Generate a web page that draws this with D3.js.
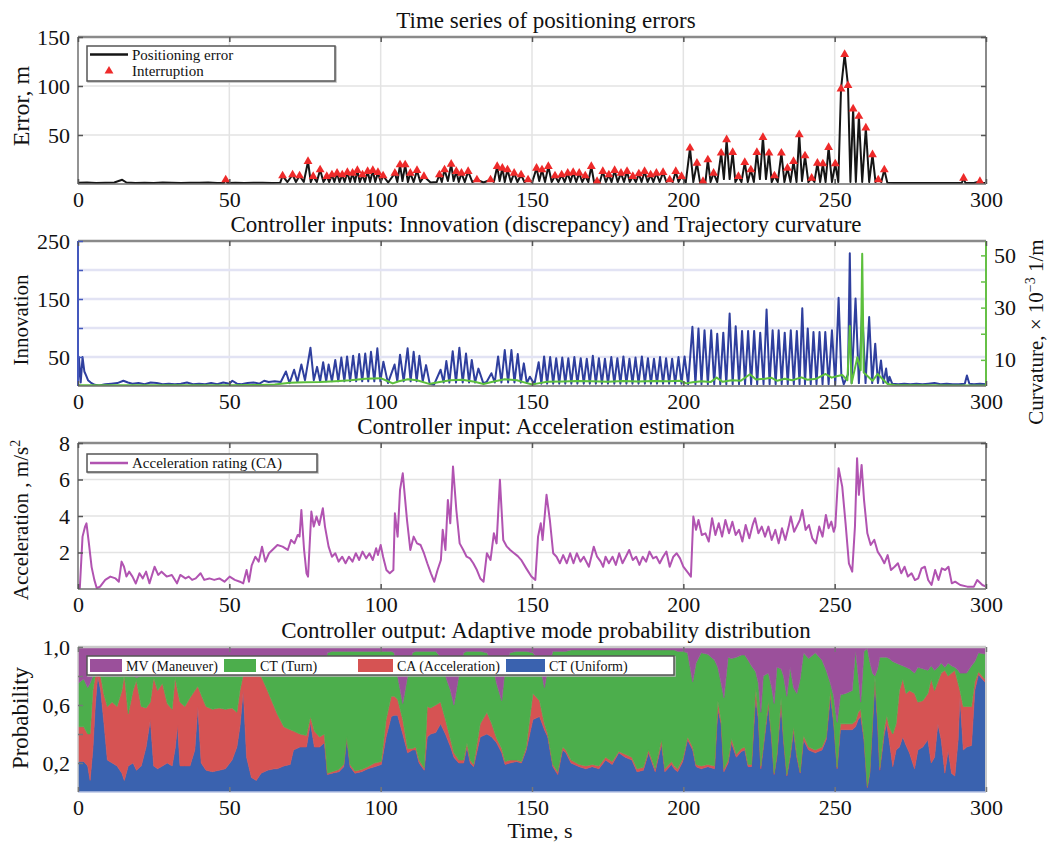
<!DOCTYPE html>
<html>
<head>
<meta charset="utf-8">
<script src="https://cdn.jsdelivr.net/npm/d3@7"></script>
<style>
  body { margin: 0; background: #fff; }
  svg text { font-family: "Liberation Serif", "Times New Roman", Times, serif; }
</style>
</head>
<body>
<svg id="chart" width="1060" height="844"></svg>
<script>
// ----------------------------------
// DATA
// ----------------------------------

const timeTicks = [0, 50, 100, 150, 200, 250, 300];
const errorTicks = [50, 100, 150];
const innovTicks = [50, 100, 150, 200, 250];
const innovTickLabels = ['50', '', '150', '', '250'];
const curvTicks = [10, 20, 30, 40, 50];
const curvTickLabels = ['10', '', '30', '', '50'];
const accelTicks = [2, 4, 6, 8];
const probTicks = [0.2, 0.4, 0.6, 0.8, 1.0];
const probTickLabels = ['0,2', '', '0,6', '', '1,0'];

const panelTitles = [
  'Time series of positioning errors',
  'Controller inputs: Innovation (discrepancy) and Trajectory curvature',
  'Controller input: Acceleration estimation',
  'Controller output: Adaptive mode probability distribution'
];

// [time s, error m, interruption flag]
const errorSeries = [
  [0,1.2],[3,1.5],[6,1.0],[9,1.3],[12,1.5],[14.6,4.3],[16,1.5],[19,1.0],[22,1.3],[25,1.0],[28,1.5],[31,1.2],
  [34,1.0],[37,1.4],[40,1.2],[43,1.5],[46,1.0],[48.2,1.0],[48.8,4.3,1],[49.4,1.0],[52,1.2],[55,1.0],[58,1.4],
  [61,1.2],[64,1.0],[66.8,1.2],
  [67.6,8.4,1],[69.2,2],[70.9,9.4,1],[72.0,2],[73.2,8.4,1],[74.6,2],[76.0,23.0,1],[76.9,2],[77.7,7.7,1],[78.9,2],
  [80.0,14.5,1],[81.1,2],[82.2,7.7,1],[83.0,2],[83.9,9.4,1],[84.7,2],[85.6,11.1,1],[86.4,2],[87.3,9.4,1],[88.1,2],
  [89.0,11.8,1],[89.9,2],[90.7,11.1,1],[91.5,2],[92.3,13.8,1],[93.1,2],[94.0,9.4,1],[94.8,2],[95.7,12.8,1],[96.5,2],
  [97.4,13.8,1],[98.2,2],[99.1,11.8,1],[100.0,2],[100.8,8.4,1],[102.5,1.5],[104.7,11.1,1],[105.5,2],[106.4,19.6,1],
  [107.2,3],[108.1,19.6,1],[109.0,2],[109.8,11.1,1],[110.9,2],[112.0,13.8,1],[113.1,2],[114.3,7.7,1],[116.5,1.5],
  [118.5,2],[119.4,9.4,1],[120.2,2],[121.1,14.5,1],[122.2,3],[123.3,20.3,1],[124.1,3],[125.0,12.8,1],[125.8,2],
  [126.7,11.1,1],[127.8,2],[128.9,12.8,1],[130.3,2],[131.8,4.3,1],[134.0,1.5],[136.3,4.3,1],[137.4,2],[138.5,17.9,1],
  [139.3,3],[140.2,16.2,1],[141.0,2],[141.9,14.5,1],[143.0,2],[144.1,11.1,1],[145.2,2],[146.4,9.4,1],[147.5,2],
  [148.7,4.3,1],[150.1,2],[151.5,16.2,1],[152.4,3],[153.3,14.5,1],[154.3,2],[155.4,17.9,1],[156.5,2],[157.6,8.4,1],
  [158.7,2],[159.8,9.4,1],[160.8,2],[161.8,11.1,1],[162.7,2],[163.6,11.8,1],[164.6,2],[165.6,11.1,1],[166.6,2],
  [167.6,8.4,1],[168.6,2],[169.6,17.9,1],[170.5,2],[171.5,2.6,1],[172.4,2],[173.4,12.8,1],[174.4,2],[175.4,9.4,1],
  [176.3,2],[177.3,13.8,1],[178.3,2],[179.4,11.1,1],[180.4,2],[181.4,12.8,1],[182.3,2],[183.3,7.7,1],[184.3,2],
  [185.3,10.4,1],[186.2,2],[187.2,12.8,1],[188.2,2],[189.2,9.4,1],[190.1,2],[191.1,11.1,1],[192.2,2],[193.3,11.8,1],
  [194.4,2],[195.5,4.3,1],[196.5,2],[197.5,12.8,1],[198.4,2],[199.4,7.7,1],[200.8,1.5],
  [202.2,36.7,1],[203.3,2],[204.5,21.3,1],[205.5,2],[206.5,2.6,1],[207.3,2],[208.1,24.7,1],[209.0,2],[210.0,11.1,1],
  [211.2,2],[212.5,31.6,1],[213.4,5],[214.3,45.2,1],[215.3,5],[216.3,32.3,1],[217.2,2],[218.2,7.7,1],[219.2,2],
  [220.3,22.0,1],[221.3,2],[222.3,14.5,1],[223.3,2],[224.3,32.3,1],[225.3,5],[226.3,47.6,1],[227.3,5],[228.3,31.6,1],
  [229.2,2],[230.1,8.4,1],[231.2,2],[232.4,31.6,1],[233.4,2],[234.4,16.2,1],[235.4,2],[236.4,23.0,1],[237.4,2],
  [238.3,50.3,1],[239.2,3],[240.2,28.8,1],[241.3,2],[242.4,6.0,1],[243.3,2],[244.3,21.3,1],[245.2,2],[246.1,20.6,1],
  [247.0,2],[248.0,37.4,1],[249.1,2],[250.2,20.6,1],[251.2,2],[252.1,97.1,1],[253.3,132.3,1],[254.4,100.5,1],
  [255.2,2],[256.1,76.6,1],[257.0,2],[258.0,69.1,1],[259.1,2],[260.3,57.2,1],[261.4,2],[262.5,29.9,1],[263.5,2],
  [264.4,4.3,1],[265.4,2],[266.4,14.5,1],[267.4,1.2],[270,1.0],[275,1.1],[280,0.9],[285,1.0],[290,1.1],[292.0,1.0],
  [292.6,6.0,1],[293.2,1.0],[296,1.0],[298.0,2.6,1],[299,1.0],[300,1.0]
];

// [time s, innovation]
const innovationSeries = [
  [0,1],[0.3,50],[0.9,6],[1.5,50],[2.1,25],[2.7,18],[3.3,10],[4.2,6],[5.5,2],[7,1],[9,3],[11,4],[13,5],[15,9],
  [16.5,6],[18,4],[20,5],[22,3],[24,6],[26,5],[28,3],[30,4],[32,3],[34,4],[36,6],[38,3],[40,4],[42,3],[44,5],[46,3],
  [48,6],[50,4],[51,9],[52.5,4],[54,3],[56,5],[58,6],[60,4],[61.5,9],[63,7],[65,8],[67,7],
  [68.7,25],[69.9,5],[71.4,28],[72.5,7],[73.8,37],[75,10],[76.8,66],[77.9,10],[79.0,33],[80.0,8],[81.0,41],[82.0,8],
  [82.8,37],[83.9,8],[85.0,45],[86.0,8],[87.0,49],[88.0,8],[88.9,51],[89.9,8],[90.9,52],[91.9,8],[92.9,55],[93.9,8],
  [94.9,56],[95.9,8],[96.8,59],[97.9,8],[98.9,65],[99.9,8],[100.9,42],[102.4,5],[104.6,37],[105.5,8],[106.4,54],
  [107.6,8],[108.9,65],[109.9,8],[110.9,59],[111.9,8],[112.8,52],[113.9,8],[115.0,36],[116.2,4],[117.6,2],[119.8,28],
  [120.8,6],[121.7,43],[122.7,6],[123.8,60],[124.9,6],[126.0,66],[127.1,6],[128.2,56],[129.2,6],[130.1,45],[131.2,6],
  [132.3,30],[133.9,5],[135.0,7],[136.6,22],[137.7,6],[138.8,51],[139.9,6],[141.0,62],[142.1,6],[143.2,62],[144.2,6],
  [145.3,55],[146.3,6],[147.3,39],[148.3,5],[149.3,16],[150.8,3],
  [152.2,41],[153.1,4],[154.0,51],[155.0,4],[156.0,50],[157.0,4],[158.0,48],[159.0,4],[160.0,49],[161.0,4],[162.0,48],
  [163.0,4],[164.0,50],[165.0,4],[166.1,48],[167.1,4],[168.1,47],[169.1,4],[170.1,52],[171.1,4],[172.1,48],[173.1,4],
  [174.1,47],[175.1,4],[176.2,50],[177.2,4],[178.2,48],[179.2,4],[180.2,51],[181.2,4],[182.2,47],[183.2,4],[184.2,49],
  [185.2,4],[186.3,51],[187.3,4],[188.3,48],[189.3,4],[190.3,47],[191.3,4],[192.3,50],[193.3,4],[194.3,48],[195.3,4],
  [196.3,47],[197.3,4],[198.4,50],[199.4,4],[200.4,51],[201.6,3],
  [203.0,102],[204.0,3],[205.0,99],[206.0,3],[207.0,96],[208.1,3],[209.2,96],[210.2,3],[211.2,90],[212.2,3],
  [213.2,92],[214.2,3],[215.3,125],[216.3,3],[217.3,103],[218.4,3],[219.4,95],[220.4,3],[221.4,95],[222.4,3],
  [223.4,95],[224.4,3],[225.4,92],[226.5,3],[227.5,132],[228.5,3],[229.5,96],[230.5,3],[231.5,96],[232.5,3],
  [233.5,92],[234.5,3],[235.5,96],[236.5,3],[237.5,95],[238.4,3],[239.3,134],[240.2,3],[241.1,99],[242.1,3],
  [243.0,93],[244.0,3],[245.0,93],[246.0,3],[246.9,93],[248.0,3],[249.1,96],[250.2,3],[251.3,152],[252.2,20],
  [253.0,3],[254.4,20],[255.0,229],[255.6,5],[256.9,151],[258.0,5],[259.1,131],[260.2,5],[261.4,119],[262.4,5],
  [263.4,73],[264.3,5],[265.3,44],[266.1,5],[267.0,30],[267.6,4],[268.1,16],[269,4],[271,3],[273,4],[275,3],[277,4],
  [279,3],[281,4],[283,5],[285,3],[287,4],[289,3],[291,3],[293,4],[293.7,18],[294.5,4],[296,3],[298,4],[300,3]
];

// [time s, curvature x 1e-3 1/m]
const curvatureSeries = [
  [0,0.3],[10,0.3],[20,0.3],[30,0.3],[40,0.3],[50,0.3],[60,0.4],[65,0.6],[70,1.2],[75,1.4],[80,1.5],[85,1.8],
  [90,2.2],[95,2.8],[100,3.0],[102,2.0],[104,1.0],[106,1.8],[109,2.6],[112,2.2],[116,0.8],[119,1.4],[123,2.2],
  [127,2.4],[131,1.6],[134,0.8],[137,1.6],[141,2.6],[145,2.2],[148,1.2],[150,0.6],[152,1.0],[155,1.6],[160,1.7],
  [165,1.9],[170,1.8],[175,1.6],[180,1.9],[185,1.7],[190,1.9],[195,1.8],[199,2.0],[201,1.0],[203,1.4],[206,1.8],
  [209,1.5],[211,3.2],[213,1.6],[216,2.2],[219,2.0],[222,4.5],[224,2.5],[227,2.8],[229,3.2],[231,2.0],[233.5,2.8],
  [236,2.2],[239,3.3],[241,2.4],[244,2.8],[247,4.6],[249,3.2],[251,3.8],[252.5,4.2],[254.2,2.2],[255,23],[255.6,1.0],
  [257.5,11],[258.6,6],[259.1,50.6],[259.6,5.2],[262.5,2.0],[264.2,4.6],[265.8,2.7],[267.5,0.8],[270,0.3],[280,0.3],
  [290,0.2],[300,0.2]
];

// [time s, acceleration m/s^2]
const accelSeries = [
  [0,0.1],[0.6,0.04],[1.5,2.87],[2.3,3.4],[2.8,3.6],[3.6,2.5],[4.5,1.2],[5.4,0.5],[6.2,0.04],[7.3,0.13],[9.0,0.5],
  [10.7,0.68],[12.4,0.58],[13.5,0.4],[14.4,1.5],[15.2,1.22],[16.0,0.68],[16.9,0.95],[18.0,0.68],[19.1,0.3],
  [20.3,0.86],[21.4,0.58],[22.5,0.95],[23.6,0.31],[25.3,1.22],[26.5,0.77],[27.6,0.95],[29.3,0.68],[31.0,0.77],
  [32.7,0.31],[33.8,0.77],[35.5,0.58],[36.6,0.68],[37.7,0.5],[38.9,0.58],[40.5,0.86],[41.7,0.5],[43.4,0.58],
  [45.0,0.5],[46.7,0.58],[48.4,0.4],[50.1,0.68],[51.8,0.5],[53.5,0.4],[54.6,0.31],[55.7,1.04],[56.5,0.4],[57.4,1.3],
  [58.6,1.77],[59.7,1.5],[60.8,2.32],[61.9,1.5],[63.1,1.96],[64.2,2.14],[65.9,2.41],[67.6,2.32],[69.3,2.14],
  [70.4,2.69],[71.5,2.5],[72.6,2.96],[73.2,2.87],[73.8,4.33],[74.7,2.14],[75.5,0.86],[76.0,0.68],[77.1,4.24],
  [77.9,3.42],[78.8,3.97],[79.7,3.51],[80.9,4.42],[81.6,3.42],[82.8,2.32],[83.9,1.77],[85.0,1.96],[86.1,1.5],
  [87.3,1.77],[88.4,1.41],[89.5,1.77],[90.7,1.5],[91.8,1.96],[92.9,1.59],[94.0,2.05],[95.2,1.68],[96.3,1.96],
  [97.4,1.59],[98.5,2.23],[99.1,1.86],[100.0,2.41],[100.8,1.77],[101.9,1.04],[103.0,0.86],[104.2,1.04],[104.7,4.15],
  [105.6,2.87],[106.4,5.43],[107.3,6.34],[108.7,3.78],[109.8,2.14],[110.9,2.87],[112.0,2.5],[113.2,2.41],
  [114.3,1.96],[115.4,1.41],[116.6,0.86],[117.7,0.4],[118.8,1.04],[119.9,1.59],[120.5,3.24],[121.4,2.14],
  [122.2,4.88],[123.0,3.6],[123.9,6.71],[125.0,4.33],[126.1,2.5],[127.3,2.14],[128.4,1.77],[129.5,1.68],
  [130.6,1.41],[131.8,1.04],[132.9,0.58],[134.0,0.4],[135.1,1.96],[136.3,1.59],[137.4,3.05],[138.3,2.5],
  [139.4,5.98],[140.5,2.69],[141.7,2.32],[142.8,2.14],[144.1,1.96],[145.3,1.8],[146.4,1.6],[148.1,1.13],
  [149.8,0.68],[151.1,0.5],[152.0,2.87],[152.9,3.6],[153.5,2.69],[154.8,5.16],[155.9,3.78],[157.0,1.96],
  [158.1,1.77],[159.2,1.41],[160.3,1.86],[161.5,1.41],[162.6,1.96],[163.7,1.41],[164.8,1.96],[166.0,1.5],
  [167.1,1.77],[168.8,1.22],[170.4,2.32],[171.5,1.77],[172.7,1.5],[173.5,1.22],[174.3,1.77],[175.4,1.41],
  [176.6,1.77],[177.7,1.32],[178.8,1.96],[179.9,1.41],[181.0,1.77],[182.1,2.14],[183.3,1.59],[184.4,1.77],
  [185.5,1.32],[186.6,1.77],[187.7,1.5],[188.8,2.05],[190.0,1.68],[191.1,1.77],[192.2,1.41],[193.3,1.77],
  [194.4,2.05],[195.5,1.22],[196.7,1.77],[197.8,1.96],[198.9,1.68],[200.0,1.22],[201.7,0.86],[202.5,0.68],
  [203.3,3.97],[204.2,3.24],[205.0,3.78],[206.1,2.96],[207.3,3.05],[208.4,2.6],[209.5,3.88],[210.6,2.96],
  [211.7,3.6],[212.8,2.87],[213.9,3.78],[215.1,3.05],[216.2,3.69],[217.3,2.96],[218.4,3.24],[219.5,2.6],
  [220.6,3.51],[221.8,2.78],[222.9,3.51],[223.7,3.88],[224.8,3.05],[225.9,3.42],[227.0,2.87],[228.1,3.42],
  [229.2,2.69],[230.4,3.24],[231.5,2.5],[232.6,3.33],[233.7,2.69],[234.8,3.42],[235.5,3.97],[236.6,3.14],
  [237.7,3.51],[238.5,3.78],[239.3,4.33],[240.4,3.24],[241.5,3.51],[242.6,2.78],[243.8,2.5],[244.9,3.42],
  [246.0,2.87],[247.1,4.06],[248.0,3.33],[248.9,3.69],[249.7,3.14],[250.2,3.42],[251.3,6.62],[252.5,5.61],
  [253.6,3.6],[254.7,1.41],[255.8,0.95],[256.7,3.42],[257.4,7.17],[258.0,5.16],[258.9,6.8],[259.7,4.88],
  [260.8,3.05],[261.9,2.41],[263.1,2.69],[264.2,2.05],[265.3,1.77],[266.4,1.41],[267.5,1.86],[268.6,1.04],
  [269.8,1.22],[270.9,1.41],[272.0,0.86],[273.1,1.22],[274.2,0.68],[275.4,0.86],[276.5,0.49],[277.6,0.58],
  [278.7,1.13],[279.8,1.22],[280.9,0.49],[282.0,0.22],[283.2,1.04],[284.3,0.49],[285.4,1.13],[286.5,1.04],
  [287.6,1.22],[288.7,0.31],[289.8,0.4],[291.5,0.22],[293.8,0.13],[296.0,0.13],[297.1,0.49],[298.8,0.22],[300,0.13]
];

// [time s, P(CT uniform), P(CA acceleration), P(CT turn)]; P(MV) is the remainder
const modeProbs = [
  [0,.21,.24,.30],[1.9,.21,.24,.33],[3.2,.18,.22,.32],[4.0,.08,.32,.35],[4.9,.29,.41,.10],[5.7,.59,.21,.01],
  [6.5,.80,.02,.01],[7.5,.70,.10,.02],[8.6,.47,.20,.13],[9.7,.22,.37,.21],[11.3,.20,.42,.18],[12.9,.18,.41,.21],
  [14.5,.13,.57,.10],[15.3,.08,.73,.01],[16.6,.18,.36,.26],[18.2,.20,.50,.10],[19.3,.15,.62,.02],[20.9,.18,.41,.21],
  [22.5,.31,.27,.22],[23.9,.50,.12,.18],[25.0,.18,.61,.01],[26.3,.16,.54,.10],[27.9,.18,.57,.05],[29.5,.20,.41,.19],
  [31.1,.18,.39,.23],[32.1,.30,.49,.01],[32.9,.46,.24,.10],[33.7,.18,.44,.18],[35.3,.18,.41,.21],[37.0,.18,.47,.15],
  [38.6,.29,.41,.10],[39.6,.59,.14,.07],[40.7,.20,.47,.13],[42.3,.15,.44,.21],[44.4,.14,.43,.23],[46.6,.15,.43,.22],
  [48.7,.16,.41,.23],[50.9,.22,.36,.22],[52.5,.31,.24,.25],[53.5,.45,.25,.10],[54.6,.70,.11,.01],[55.7,.24,.58,.00],
  [57.3,.10,.70,.01],[58.9,.08,.73,.01],[60.5,.13,.67,.01],[62.6,.15,.55,.10],[64.8,.16,.43,.21],[65.8,.16,.38,.26],
  [68.0,.18,.27,.35],[70.1,.19,.24,.38],[71.2,.29,.13,.39],[73.3,.31,.09,.41],[75.5,.31,.08,.42],[76.8,.48,.04,.29],
  [78.1,.31,.11,.40],[79.8,.31,.07,.44],[81.4,.34,.06,.45],[82.4,.12,.01,.83],[84.0,.13,.01,.83],[86.2,.14,.015,.815],
  [87.8,.175,.015,.78],[88.8,.37,.01,.59],[89.9,.175,.015,.78],[91.5,.13,.015,.825],[93.7,.14,.015,.815],
  [95.8,.16,.015,.795],[98.0,.175,.025,.77],[100.2,.19,.02,.76],[101.8,.38,.12,.47],[103.5,.52,.14,.31],
  [104.5,.53,.13,.30],[105.6,.53,.11,.16],[107.3,.40,.10,.11],[108.9,.27,.03,.50],[110.5,.29,.01,.66],
  [111.6,.29,.02,.66],[112.7,.20,.02,.75],[114.4,.15,.015,.805],[115.4,.38,.21,.38],[116.5,.40,.18,.39],
  [118.2,.41,.19,.37],[119.8,.47,.15,.31],[121.4,.40,.10,.30],[123.1,.31,.05,.34],[124.2,.24,.03,.33],
  [125.8,.20,.02,.58],[127.4,.20,.02,.74],[128.5,.31,.03,.63],[129.6,.20,.02,.75],[130.7,.175,.015,.78],
  [132.9,.38,.09,.50],[135.1,.40,.15,.41],[136.7,.38,.09,.43],[138.3,.34,.03,.38],[140.0,.27,.03,.33],
  [141.1,.19,.02,.64],[142.7,.20,.02,.74],[144.9,.21,.01,.75],[146.5,.20,.01,.76],[148.1,.29,.02,.66],
  [150.3,.50,.18,.28],[152.5,.52,.11,.27],[154.1,.43,.04,.25],[155.2,.38,.02,.45],[156.9,.175,.015,.78],
  [158.5,.12,.02,.83],[160.1,.29,.02,.66],[161.2,.27,.02,.68],[162.9,.20,.02,.76],[165.6,.175,.015,.79],
  [167.8,.16,.02,.80],[169.9,.175,.015,.79],[172.1,.16,.02,.80],[174.3,.22,.02,.74],[176.5,.19,.02,.77],
  [178.7,.27,.01,.70],[180.8,.24,.02,.72],[183.0,.22,.02,.74],[184.7,.14,.02,.82],[186.8,.15,.02,.81],
  [188.5,.27,.02,.69],[190.7,.14,.02,.82],[192.8,.33,.03,.62],[193.9,.14,.02,.82],[196.1,.19,.02,.77],
  [197.0,.16,.02,.80],[198.1,.14,.02,.81],[199.8,.21,.02,.74],[201.4,.36,.02,.58],[203.1,.29,.02,.45],
  [204.2,.175,.015,.70],[205.9,.16,.02,.78],[208.1,.175,.015,.76],[210.3,.16,.02,.73],[211.4,.57,.06,.23],
  [212.5,.47,.02,.26],[213.4,.14,.02,.49],[214.8,.20,.02,.71],[215.9,.34,.03,.55],[217.5,.24,.02,.67],
  [219.2,.28,.02,.645],[220.3,.29,.02,.635],[221.4,.175,.015,.72],[222.5,.175,.015,.68],[223.9,.65,.07,.11],
  [224.8,.50,.02,.23],[225.6,.16,.02,.37],[226.4,.30,.02,.48],[228.1,.60,.03,.19],[229.2,.36,.02,.34],
  [230.0,.12,.01,.48],[230.9,.24,.02,.60],[232.3,.60,.05,.20],[233.1,.36,.02,.42],[234.2,.11,.01,.54],
  [235.3,.24,.02,.60],[236.4,.42,.03,.27],[237.5,.24,.02,.42],[238.6,.13,.01,.64],[239.7,.36,.03,.57],
  [241.4,.29,.02,.61],[243.6,.27,.02,.67],[245.8,.29,.02,.60],[247.2,.36,.02,.46],[248.6,.66,.04,.05],
  [249.7,.47,.02,.17],[250.8,.16,.01,.31],[251.9,.43,.04,.20],[253.6,.43,.04,.21],[255.8,.43,.04,.23],
  [256.9,.45,.04,.49],[257.8,.50,.05,.25],[258.6,.52,.05,.05],[259.7,.36,.02,.59],[260.8,.03,.01,.95],
  [261.6,.13,.01,.76],[262.5,.47,.02,.33],[263.3,.76,.04,.00],[264.2,.47,.03,.35],[264.9,.15,.02,.76],
  [266.4,.40,.04,.49],[267.2,.47,.06,.40],[268.0,.36,.09,.47],[269.2,.175,.225,.50],[270.3,.29,.18,.42],
  [271.4,.31,.39,.18],[272.5,.38,.40,.09],[273.6,.32,.36,.18],[274.7,.27,.43,.15],[276.4,.16,.52,.14],
  [277.5,.29,.33,.24],[279.1,.31,.32,.22],[280.8,.36,.32,.16],[281.9,.20,.58,.09],[283.0,.24,.46,.14],
  [284.1,.47,.29,.10],[285.2,.36,.46,.07],[286.4,.13,.71,.02],[287.5,.29,.51,.09],[288.6,.13,.69,.05],
  [289.7,.11,.73,.02],[290.8,.36,.39,.09],[291.4,.66,.04,.12],[292.5,.29,.30,.23],[293.6,.31,.28,.23],
  [295.2,.32,.27,.28],[296.3,.70,.06,.14],[297.5,.81,.02,.13],[300,.75,.02,.18]
];

const modeKeys = ['uniform', 'accel', 'turn', 'maneuver'];
const modeColors = {uniform: '#3a62af', accel: '#d65353', turn: '#4cae4c', maneuver: '#9b509b'};
const legendModes = [
  ['maneuver', 'MV (Maneuver)'],
  ['turn', 'CT (Turn)'],
  ['accel', 'CA (Acceleration)'],
  ['uniform', 'CT (Uniform)']
];

// ----------------------------------
// LAYOUT
// ----------------------------------

const svg = d3.select('#chart');
const FONT = '"Liberation Serif", "Times New Roman", Times, serif';
const xLeft = 78, xRight = 986, titleX = 546;
const x = d3.scaleLinear().domain([0, 300]).range([xLeft, xRight]);

const p1 = {top: 37, bottom: 184};
const p2 = {top: 241, bottom: 386};
const p3 = {top: 443, bottom: 589};
const p4 = {top: 647, bottom: 792};

svg.append('rect').attr('width', 1060).attr('height', 844).attr('fill', '#fff');

function clipFor(id, p) {
  svg.append('clipPath').attr('id', id).append('rect')
    .attr('x', xLeft).attr('y', p.top).attr('width', xRight - xLeft).attr('height', p.bottom - p.top);
  return `url(#${id})`;
}

function title(text, p) {
  svg.append('text')
    .attr('x', titleX).attr('y', p.top - 9)
    .attr('text-anchor', 'middle')
    .attr('font-family', FONT).style('font-size', '23px')
    .attr('fill', '#111')
    .text(text);
}

function styleAxis(g, color) {
  g.attr('font-family', FONT);
  g.select('.domain').remove();
  g.selectAll('.tick line').attr('stroke', color).attr('stroke-width', 1.5);
  g.selectAll('.tick text').attr('font-family', FONT).style('font-size', '22px').attr('fill', '#111');
}

function vGrid(p) {
  svg.append('g').selectAll('line')
    .data(timeTicks.slice(1, -1)).join('line')
    .attr('x1', d => x(d)).attr('x2', d => x(d))
    .attr('y1', p.top).attr('y2', p.bottom)
    .attr('stroke', '#e3e3e3').attr('stroke-width', 1.5);
}

function hGrid(y, ticks, color, width) {
  svg.append('g').selectAll('line')
    .data(ticks).join('line')
    .attr('x1', xLeft).attr('x2', xRight)
    .attr('y1', d => y(d)).attr('y2', d => y(d))
    .attr('stroke', color).attr('stroke-width', width);
}

function xAxes(p, color) {
  const gb = svg.append('g').attr('transform', `translate(0,${p.bottom})`)
    .call(d3.axisBottom(x).tickValues(timeTicks).tickSizeInner(-5).tickSizeOuter(0).tickPadding(7));
  styleAxis(gb, color);
  const gt = svg.append('g').attr('transform', `translate(0,${p.top})`)
    .call(d3.axisTop(x).tickValues(timeTicks).tickSizeInner(-5).tickSizeOuter(0).tickFormat(''));
  styleAxis(gt, color);
}

function yAxisLeft(y, ticks, labels, color) {
  const g = svg.append('g').attr('transform', `translate(${xLeft},0)`)
    .call(d3.axisLeft(y).tickValues(ticks).tickSizeInner(-5).tickSizeOuter(0).tickPadding(8)
      .tickFormat((d, i) => labels ? labels[i] : d));
  styleAxis(g, color);
}

function yAxisRight(y, ticks, labels, color) {
  const g = svg.append('g').attr('transform', `translate(${xRight},0)`)
    .call(d3.axisRight(y).tickValues(ticks).tickSizeInner(-5).tickSizeOuter(0).tickPadding(8)
      .tickFormat((d, i) => labels ? labels[i] : ''));
  styleAxis(g, color);
}

function frame(p, colors) {
  const c = Object.assign({left: '#6f6f6f', right: '#8a8a8a', top: '#8a8a8a', bottom: '#6f6f6f'}, colors);
  const g = svg.append('g').attr('fill', 'none');
  g.append('line').attr('x1', xLeft).attr('x2', xRight).attr('y1', p.bottom).attr('y2', p.bottom)
    .attr('stroke', c.bottom).attr('stroke-width', 1.5);
  g.append('line').attr('x1', xLeft).attr('x2', xRight).attr('y1', p.top).attr('y2', p.top)
    .attr('stroke', c.top).attr('stroke-width', 2.5);
  g.append('line').attr('x1', xLeft).attr('x2', xLeft).attr('y1', p.top).attr('y2', p.bottom)
    .attr('stroke', c.left).attr('stroke-width', c.leftW || 1.5);
  g.append('line').attr('x1', xRight).attr('x2', xRight).attr('y1', p.top).attr('y2', p.bottom)
    .attr('stroke', c.right).attr('stroke-width', c.rightW || 2);
}

function yLabel(xPos, yPos, size) {
  return svg.append('text')
    .attr('transform', `translate(${xPos},${yPos}) rotate(-90)`)
    .attr('text-anchor', 'middle')
    .attr('font-family', FONT).style('font-size', size + 'px')
    .attr('fill', '#111');
}

function legendBox(x0, y0, w, h) {
  svg.append('rect').attr('x', x0 + 1).attr('y', y0 + 1).attr('width', w).attr('height', h)
    .attr('fill', 'none').attr('stroke', '#bbb').attr('stroke-width', 1.5);
  svg.append('rect').attr('x', x0).attr('y', y0).attr('width', w).attr('height', h)
    .attr('fill', '#fff').attr('stroke', '#555').attr('stroke-width', 1.5);
}

function legendText(x0, y0, text, size) {
  svg.append('text').attr('x', x0).attr('y', y0)
    .attr('font-family', FONT).style('font-size', (size || 15) + 'px').attr('fill', '#111')
    .text(text);
}

// ----------------------------------
// PANEL 1: POSITIONING ERROR
// ----------------------------------

const yErr = d3.scaleLinear().domain([0, 150]).range([p1.bottom, p1.top]);
title(panelTitles[0], p1);
vGrid(p1);
hGrid(yErr, [50, 100], '#e3e3e3', 1.5);

const clip1 = clipFor('clip1', p1);
svg.append('path')
  .datum(errorSeries)
  .attr('clip-path', clip1)
  .attr('d', d3.line().x(d => x(d[0])).y(d => yErr(d[1])))
  .attr('fill', 'none').attr('stroke', '#151515').attr('stroke-width', 2)
  .attr('stroke-linejoin', 'round');

const triangle = d3.symbol(d3.symbolTriangle, 34);
svg.append('g').selectAll('path')
  .data(errorSeries.filter(d => d[2]))
  .join('path')
  .attr('transform', d => `translate(${x(d[0])},${yErr(d[1])})`)
  .attr('d', triangle)
  .attr('fill', '#ee2a2a');

frame(p1);
xAxes(p1, '#555');
yAxisLeft(yErr, errorTicks, null, '#555');
yAxisRight(yErr, errorTicks, null, '#555');
yLabel(29, 106, 24).text('Error, m');

legendBox(87, 46, 248, 35);
svg.append('line').attr('x1', 90).attr('x2', 128).attr('y1', 54.5).attr('y2', 54.5)
  .attr('stroke', '#151515').attr('stroke-width', 2.5);
legendText(132, 59.5, 'Positioning error');
svg.append('path').attr('transform', 'translate(109,71)').attr('d', triangle).attr('fill', '#ee2a2a');
legendText(132, 76, 'Interruption');

// ----------------------------------
// PANEL 2: INNOVATION AND CURVATURE
// ----------------------------------

const yInn = d3.scaleLinear().domain([0, 250]).range([p2.bottom, p2.top]);
const yCurv = d3.scaleLinear().domain([0, 55.5]).range([p2.bottom, p2.top]);
title(panelTitles[1], p2);
vGrid(p2);
hGrid(yInn, [50, 100, 150, 200], '#e2e3f4', 2.5);

const clip2 = clipFor('clip2', p2);
svg.append('path')
  .datum(innovationSeries)
  .attr('clip-path', clip2)
  .attr('d', d3.line().x(d => x(d[0])).y(d => yInn(d[1])))
  .attr('fill', 'none').attr('stroke', '#2f3f9e').attr('stroke-width', 2)
  .attr('stroke-linejoin', 'round');
svg.append('path')
  .datum(curvatureSeries)
  .attr('clip-path', clip2)
  .attr('d', d3.line().x(d => x(d[0])).y(d => yCurv(d[1])))
  .attr('fill', 'none').attr('stroke', '#5cbf3c').attr('stroke-width', 2)
  .attr('stroke-linejoin', 'round');

frame(p2, {left: '#4458bd', leftW: 2, right: '#66c046', rightW: 2});
xAxes(p2, '#555');
yAxisLeft(yInn, innovTicks, innovTickLabels, '#4458bd');
yAxisRight(yCurv, curvTicks, curvTickLabels, '#66c046');
yLabel(28, 320, 21).text('Innovation');

const curvLabel = yLabel(1043, 332, 21);
curvLabel.append('tspan').text('Curvature, \u00d7 10');
curvLabel.append('tspan').attr('dy', -8).style('font-size', '14px').text('\u22123');
curvLabel.append('tspan').attr('dy', 8).text(' 1/m');

// ----------------------------------
// PANEL 3: ACCELERATION
// ----------------------------------

const yAcc = d3.scaleLinear().domain([0, 8]).range([p3.bottom, p3.top]);
title(panelTitles[2], p3);
vGrid(p3);
hGrid(yAcc, [2, 4, 6], '#e3e3e3', 1.5);

const clip3 = clipFor('clip3', p3);
svg.append('path')
  .datum(accelSeries)
  .attr('clip-path', clip3)
  .attr('d', d3.line().x(d => x(d[0])).y(d => yAcc(d[1])))
  .attr('fill', 'none').attr('stroke', '#b153b1').attr('stroke-width', 2)
  .attr('stroke-linejoin', 'round');

frame(p3);
xAxes(p3, '#555');
yAxisLeft(yAcc, accelTicks, null, '#555');
yAxisRight(yAcc, accelTicks, null, '#555');

const accLabel = yLabel(28, 520, 21);
accLabel.append('tspan').text('Acceleration , m/s');
accLabel.append('tspan').attr('dy', -8).style('font-size', '14px').text('2');

legendBox(87, 454, 230, 18);
svg.append('line').attr('x1', 90).attr('x2', 128).attr('y1', 463).attr('y2', 463)
  .attr('stroke', '#b153b1').attr('stroke-width', 2.5);
legendText(132, 468, 'Acceleration rating (CA)');

// ----------------------------------
// PANEL 4: MODE PROBABILITIES (stacked)
// ----------------------------------

const yProb = d3.scaleLinear().domain([0, 1]).range([p4.bottom, p4.top]);
title(panelTitles[3], p4);

const probRows = modeProbs.map(r => ({
  t: r[0], uniform: r[1], accel: r[2], turn: r[3],
  maneuver: Math.max(0, 1 - r[1] - r[2] - r[3])
}));
const stacked = d3.stack().keys(modeKeys)(probRows);
const area = d3.area()
  .x(d => x(d.data.t))
  .y0(d => yProb(d[0]))
  .y1(d => yProb(d[1]));

const clip4 = clipFor('clip4', p4);
svg.append('g').attr('clip-path', clip4)
  .selectAll('path')
  .data(stacked)
  .join('path')
  .attr('d', area)
  .attr('fill', d => modeColors[d.key])
  .attr('stroke', d => modeColors[d.key])
  .attr('stroke-width', 0.6);

frame(p4, {left: '#c9c9c9', right: '#c9c9c9', top: '#c9c9c9', bottom: '#b8c4e4'});
xAxes(p4, '#777');
yAxisLeft(yProb, probTicks, probTickLabels, '#777');
yLabel(28, 718, 23).text('Probability');

legendBox(87, 656, 587, 19);
const legendX = [[90, 126], [224, 260], [358, 397], [506, 549]];
legendModes.forEach((m, i) => {
  const [sx, tx] = legendX[i];
  svg.append('rect').attr('x', sx).attr('y', 659).attr('width', tx - sx - 4).attr('height', 13)
    .attr('fill', modeColors[m[0]]);
  legendText(tx, 671, m[1], 14);
});

svg.append('text')
  .attr('x', 540).attr('y', 838)
  .attr('text-anchor', 'middle')
  .attr('font-family', FONT).style('font-size', '22px').attr('fill', '#111')
  .text('Time, s');
</script>
</body>
</html>
